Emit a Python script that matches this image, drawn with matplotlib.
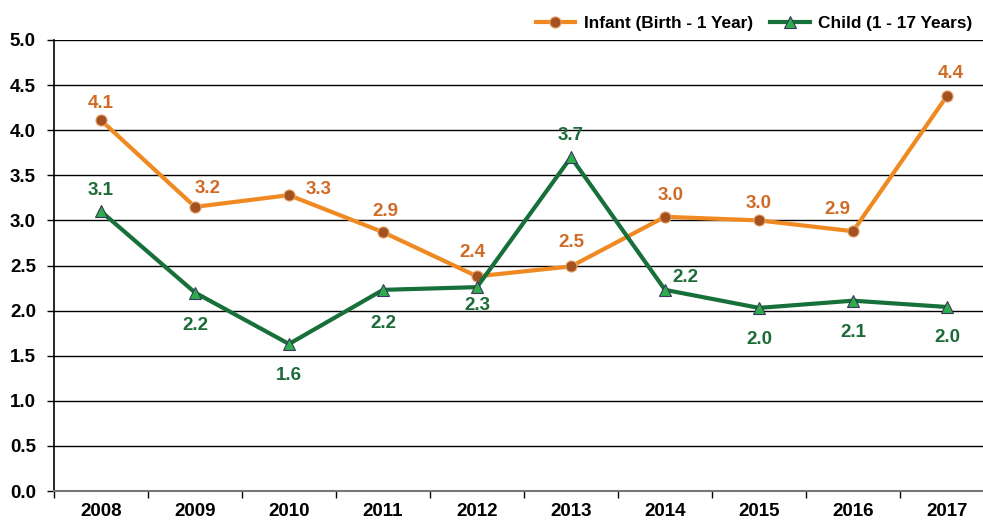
import matplotlib.pyplot as plt
from matplotlib.ticker import MultipleLocator, FixedLocator

plt.rcParams['font.family'] = ['Liberation Sans', 'DejaVu Sans']
plt.rcParams['font.weight'] = 'bold'

years = ['2008', '2009', '2010', '2011', '2012', '2013', '2014', '2015', '2016', '2017']
infant = [4.11, 3.15, 3.28, 2.87, 2.38, 2.49, 3.04, 3.00, 2.88, 4.38]
child = [3.10, 2.20, 1.63, 2.23, 2.26, 3.70, 2.23, 2.03, 2.11, 2.04]
infant_labels = ['4.1', '3.2', '3.3', '2.9', '2.4', '2.5', '3.0', '3.0', '2.9', '4.4']
child_labels = ['3.1', '2.2', '1.6', '2.2', '2.3', '3.7', '2.2', '2.0', '2.1', '2.0']

# label offsets in points (dx, dy)
infant_off = [(0, 12), (9, 13), (21, 4), (2, 15), (-3, 17), (0, 17), (4, 15), (0, 12), (-11, 16), (3, 16)]
child_off = [(0, 15), (0, -24), (0, -23), (0, -24), (0, -13), (0, 16), (15, 9), (0, -23), (0, -23), (0, -22)]

orange = '#EF8A22'
orange_mk = '#A3511F'
orange_txt = '#CF6B27'
green = '#17703A'
green_mk = '#2DAE4A'
green_txt = '#1D6B38'

fig = plt.figure(figsize=(9.83, 5.23), dpi=100)
ax = fig.add_axes([54 / 983, 32 / 523, 940 / 983, 451 / 523])

x = list(range(len(years)))
ax.plot(x, infant, color=orange, lw=3, marker='o', ms=8, mfc=orange_mk, mec='#E9A26A', mew=0.8,
        label='Infant (Birth - 1 Year)', zorder=3)
ax.plot(x, child, color=green, lw=3, marker='^', ms=9, mfc=green_mk, mec='#3C3560', mew=0.8,
        label='Child (1 - 17 Years)', zorder=3)

for i in x:
    ax.annotate(infant_labels[i], (i, infant[i]), xytext=infant_off[i], textcoords='offset points',
                ha='center', va='center', fontsize=13.5, fontweight='bold', color=orange_txt)
    ax.annotate(child_labels[i], (i, child[i]), xytext=child_off[i], textcoords='offset points',
                ha='center', va='center', fontsize=13.5, fontweight='bold', color=green_txt)

ax.set_xlim(-0.5, len(years) - 0.5)
ax.set_ylim(0, 5)
ax.yaxis.set_major_locator(MultipleLocator(0.5))
ax.set_yticklabels([f'{v:.1f}' for v in ax.get_yticks()])
ax.set_xticks(x)
ax.set_xticklabels(years)
ax.xaxis.set_minor_locator(FixedLocator([i - 0.5 for i in range(len(years) + 1)]))
ax.tick_params(axis='x', which='major', length=0, pad=9, labelsize=13.5)
ax.tick_params(axis='x', which='minor', length=5, width=1, color='black')
ax.tick_params(axis='y', length=5, width=1, pad=8, labelsize=13.5)

ax.grid(axis='y', color='black', lw=1)
ax.set_axisbelow(True)
for s in ['top', 'right']:
    ax.spines[s].set_visible(False)
ax.spines['left'].set_linewidth(1.2)
ax.spines['bottom'].set_color('#777777')
ax.spines['bottom'].set_linewidth(1.5)

fig.legend(loc='upper right', bbox_to_anchor=(1.0, 0.99), ncol=2, frameon=False,
           prop={'weight': 'bold', 'size': 12.4}, handlelength=2.3, columnspacing=1.0,
           handletextpad=0.5, borderaxespad=0.2)

fig.savefig('out.png', dpi=100)
